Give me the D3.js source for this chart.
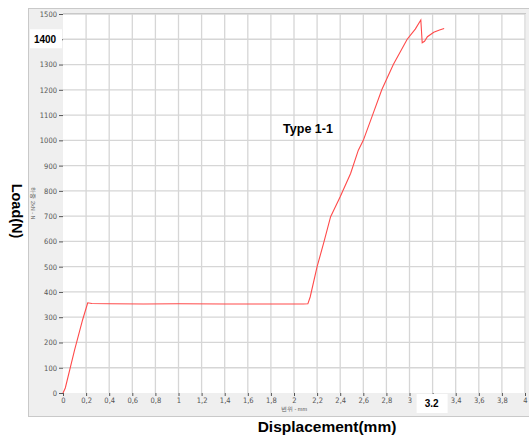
<!DOCTYPE html>
<html>
<head>
<meta charset="utf-8">
<script src="https://cdn.jsdelivr.net/npm/d3@7"></script>
<style>
  body { margin: 0; background: #fff; }
  svg { display: block; font-family: "Liberation Sans", Arial, sans-serif; }
</style>
</head>
<body>
<svg id="chart" width="529" height="436"></svg>
<script>
// load-displacement curve
const dispMm = [0, 0.02, 0.1, 0.17, 0.214, 0.25, 0.4, 0.7, 1.0, 1.4, 1.8, 2.08, 2.12, 2.14, 2.2, 2.26, 2.317, 2.345, 2.4, 2.49, 2.557, 2.6, 2.68, 2.76, 2.86, 2.98, 3.05, 3.098, 3.11, 3.13, 3.155, 3.21, 3.26, 3.30];
const loadN  = [0, 20, 170, 290, 357, 354, 353, 352, 353, 352, 352, 352, 353, 380, 500, 599, 698, 724, 777, 869, 961, 1000, 1100, 1200, 1300, 1400, 1440, 1476, 1386, 1392, 1410, 1428, 1437, 1443];
const xTicks = d3.range(0, 4.01, 0.2).map(v => +v.toFixed(1));
const yTicks = d3.range(0, 1501, 100);
const hiX = 3.2, hiY = 1400;

const svg = d3.select('#chart');
const plot = { left: 63, right: 525, top: 14, bottom: 393 };

const x = d3.scaleLinear().domain([0, 4]).range([plot.left, plot.right]);
const y = d3.scaleLinear().domain([0, 1500]).range([plot.bottom, plot.top]);

// grey frame
svg.append('rect')
  .attr('x', 28.5).attr('y', 8.5).attr('width', 510).attr('height', 408)
  .attr('fill', '#efefef').attr('stroke', '#c9c9c9');
svg.append('rect')
  .attr('x', plot.left).attr('y', plot.top)
  .attr('width', plot.right - plot.left + 1).attr('height', plot.bottom - plot.top)
  .attr('fill', '#fff');

// grid
svg.append('g').selectAll('line').data(xTicks.slice(1)).enter()
  .append('line')
    .attr('x1', d => x(d)).attr('x2', d => x(d))
    .attr('y1', plot.top).attr('y2', plot.bottom)
    .attr('stroke', '#d6d6d6').attr('stroke-width', 1.3);
svg.append('g').selectAll('line').data(yTicks.slice(1)).enter()
  .append('line')
    .attr('x1', plot.left).attr('x2', plot.right)
    .attr('y1', d => y(d)).attr('y2', d => y(d))
    .attr('stroke', '#d6d6d6').attr('stroke-width', 1.3);
svg.append('line')
  .attr('x1', plot.left).attr('x2', plot.right + 1)
  .attr('y1', plot.top - 0.5).attr('y2', plot.top - 0.5)
  .attr('stroke', '#c9c9c9');

// axes
const fmt = d => String(d).replace('.', ',');
const xAxis = d3.axisBottom(x).tickValues(xTicks).tickSize(3).tickPadding(2)
  .tickFormat(d => Math.abs(d - hiX) < 1e-6 ? '' : fmt(d));
const gx = svg.append('g').attr('transform', `translate(0,${plot.bottom})`).call(xAxis);
const yAxis = d3.axisLeft(y).tickValues(yTicks).tickSize(4).tickPadding(2)
  .tickFormat(d => d === hiY ? '' : d);
const gy = svg.append('g').attr('transform', `translate(${plot.left},0)`).call(yAxis);
[gx, gy].forEach(g => {
  g.select('.domain').remove();
  g.selectAll('line').attr('stroke', '#555');
  g.selectAll('text').attr('fill', '#555').attr('font-size', 7.5)
    .attr('font-family', '"DejaVu Sans Condensed", "Liberation Sans Narrow", sans-serif');
});

// highlighted tick labels
svg.append('rect').attr('x', 30).attr('y', y(hiY) - 10).attr('width', 32).attr('height', 19).attr('fill', '#fff');
svg.append('text').attr('x', 45).attr('y', y(hiY) + 4).attr('text-anchor', 'middle')
  .attr('font-size', 10).attr('font-weight', 'bold').text('1400');
svg.append('rect').attr('x', x(hiX) - 16).attr('y', plot.bottom + 1).attr('width', 31).attr('height', 19).attr('fill', '#fff');
svg.append('text').attr('x', x(hiX) - 1).attr('y', plot.bottom + 14).attr('text-anchor', 'middle')
  .attr('font-size', 10).attr('font-weight', 'bold').text('3.2');

// small unit captions
svg.append('text').attr('transform', `translate(31,${(plot.top + plot.bottom) / 2}) rotate(90)`)
  .attr('text-anchor', 'middle').attr('font-size', 5.5).attr('fill', '#555').text('하중 2kN - N');
svg.append('text').attr('x', x(2)).attr('y', plot.bottom + 18)
  .attr('text-anchor', 'middle').attr('font-size', 5.5).attr('fill', '#555').text('변위 - mm');

// curve
const line = d3.line().x((d, i) => x(dispMm[i])).y((d, i) => y(loadN[i]));
svg.append('path').datum(loadN)
  .attr('d', line).attr('fill', 'none')
  .attr('stroke', '#ff4a4a').attr('stroke-width', 1.1);

// titles
svg.append('text').attr('x', 308).attr('y', 133).attr('text-anchor', 'middle')
  .attr('font-size', 12.5).attr('font-weight', 'bold').text('Type 1-1');
svg.append('text').attr('x', 327).attr('y', 432).attr('text-anchor', 'middle')
  .attr('font-size', 15.5).attr('font-weight', 'bold').text('Displacement(mm)');
svg.append('text').attr('transform', 'translate(12,211) rotate(90)')
  .attr('text-anchor', 'middle').attr('font-size', 14.5).attr('font-weight', 'bold').text('Load(N)');
</script>
</body>
</html>
